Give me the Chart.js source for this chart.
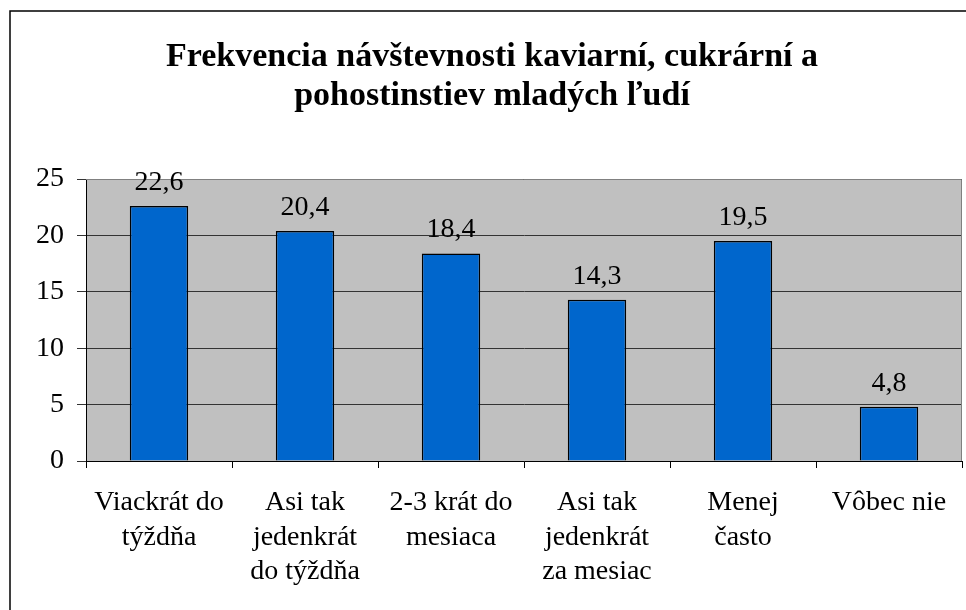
<!DOCTYPE html>
<html>
<head>
<meta charset="utf-8">
<script src="https://cdn.jsdelivr.net/npm/chart.js@4/dist/chart.umd.min.js"></script>
<style>
  html, body { margin: 0; padding: 0; background: #fff; }
  canvas { display: block; }
</style>
</head>
<body>
<canvas id="c" width="966" height="610"></canvas>
<script>
const titleLines = ["Frekvencia návštevnosti kaviarní, cukrární a", "pohostinstiev mladých ľudí"];
const categories = [
  ["Viackrát do", "týždňa"],
  ["Asi tak", "jedenkrát", "do týždňa"],
  ["2-3 krát do", "mesiaca"],
  ["Asi tak", "jedenkrát", "za mesiac"],
  ["Menej", "často"],
  ["Vôbec nie"]
];
const values = [22.6, 20.4, 18.4, 14.3, 19.5, 4.8];
const yTicks = [0, 5, 10, 15, 20, 25];

const FONT = "'Liberation Serif', 'Times New Roman', serif";

const decorPlugin = {
  id: 'decor',
  beforeDraw(chart) {
    const ctx = chart.ctx, a = chart.chartArea;
    ctx.save();
    ctx.fillStyle = '#fff';
    ctx.fillRect(0, 0, chart.width, chart.height);
    // outer frame (only top and left visible)
    ctx.strokeStyle = '#000';
    ctx.lineWidth = 1.5;
    ctx.beginPath();
    ctx.moveTo(10, chart.height + 5);
    ctx.lineTo(10, 11);
    ctx.lineTo(chart.width + 5, 11);
    ctx.stroke();
    // plot background
    ctx.fillStyle = '#C0C0C0';
    ctx.fillRect(a.left, a.top, a.right - a.left, a.bottom - a.top);
    // title
    ctx.fillStyle = '#000';
    ctx.font = "bold 34px " + FONT;
    ctx.textAlign = 'center';
    ctx.textBaseline = 'alphabetic';
    ctx.fillText(titleLines[0], 492, 66);
    ctx.fillText(titleLines[1], 492, 105);
    ctx.restore();
  },
  beforeDatasetsDraw(chart) {
    const ctx = chart.ctx, a = chart.chartArea;
    ctx.save();
    ctx.strokeStyle = '#808080';
    ctx.lineWidth = 1;
    ctx.beginPath();
    ctx.moveTo(a.left, a.top + 0.5);
    ctx.lineTo(a.right - 0.5, a.top + 0.5);
    ctx.lineTo(a.right - 0.5, a.bottom);
    ctx.stroke();
    ctx.restore();
  },
  afterDatasetsDraw(chart) {
    const ctx = chart.ctx;
    const meta = chart.getDatasetMeta(0);
    ctx.save();
    ctx.fillStyle = '#000';
    ctx.font = "28px " + FONT;
    ctx.textAlign = 'center';
    ctx.textBaseline = 'alphabetic';
    meta.data.forEach((bar, i) => {
      ctx.fillText(String(values[i]).replace('.', ','), bar.x, bar.y - 16);
    });
    ctx.restore();
  }
};

new Chart(document.getElementById('c'), {
  type: 'bar',
  data: {
    labels: categories,
    datasets: [{
      data: values,
      backgroundColor: '#0066CC',
      borderColor: '#000',
      borderWidth: 1.5,
      barPercentage: 0.4,
      categoryPercentage: 1.0
    }]
  },
  options: {
    responsive: false,
    animation: false,
    devicePixelRatio: 1,
    layout: { padding: { top: 179, right: 4, left: 0, bottom: 0 } },
    plugins: {
      legend: { display: false },
      title: { display: false },
      tooltip: { enabled: false }
    },
    scales: {
      x: {
        grid: {
          offset: true,
          drawOnChartArea: false,
          drawTicks: true,
          tickLength: 7,
          color: '#000',
          lineWidth: 1
        },
        border: { display: true, color: '#000', width: 1 },
        ticks: {
          color: '#000',
          padding: 18,
          maxRotation: 0,
          autoSkip: false,
          font: { family: FONT, size: 28, lineHeight: 1.22 }
        },
        afterFit(scale) { scale.height = 610 - 461; }
      },
      y: {
        min: 0,
        max: 25,
        afterBuildTicks(scale) { scale.ticks = yTicks.map(v => ({ value: v })); },
        grid: {
          color: '#333',
          lineWidth: 1,
          tickLength: 9,
          drawTicks: true
        },
        border: { display: true, color: '#000', width: 1 },
        ticks: {
          color: '#000',
          padding: 13,
          font: { family: FONT, size: 28 }
        },
        afterFit(scale) { scale.width = 86; }
      }
    }
  },
  plugins: [decorPlugin]
});
</script>
</body>
</html>
